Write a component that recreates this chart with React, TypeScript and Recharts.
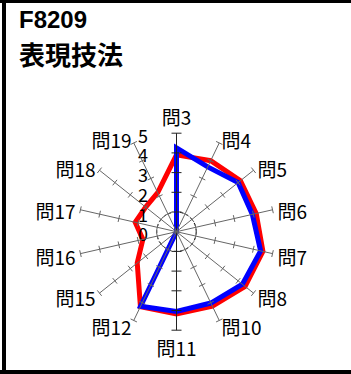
import React from "react";
import { RadarChart, Radar, PolarAngleAxis, PolarRadiusAxis, PolarGrid } from "recharts";

const categories = ["問3", "問4", "問5", "問6", "問7", "問8", "問10", "問11", "問12", "問15", "問16", "問17", "問18", "問19"];
const redValues = [3.9, 4.0, 4.15, 4.15, 4.5, 4.45, 4.2, 4.18, 4.22, 2.55, 1.75, 2.15, 2.0, 2.2];
const blueValues = [4.25, 3.65, 4.0, 3.95, 4.38, 4.28, 4.02, 4.05, 4.2, 0, 0, 0, 0, 0];
const valueTicks = [0, 1, 2, 3, 4, 5];

const W = 351;
const H = 374;
const CX = 176.5;
const CY = 231.7;
const OUTER = 98.5;
const MAX = valueTicks[valueTicks.length - 1];
const RAD = Math.PI / 180;

const data = categories.map((name, i) => ({ name, red: redValues[i], blue: blueValues[i] }));
const angles = categories.map((_, i) => 90 - (i * 360) / categories.length);

// tick mark across a spoke, optional value labels on the main (vertical) axis
const makeSpokeTick = (angle: number, strong: boolean, withLabels: boolean) => (props: any) => {
  const { x, y, payload } = props;
  const label = withLabels ? (
    <text
      x={x - 33.5}
      y={y + 1.5}
      textAnchor="middle"
      dominantBaseline="central"
      fontSize={18}
      fontFamily="'Noto Sans CJK JP', sans-serif"
      fill="#000"
    >
      {payload.value}
    </text>
  ) : null;
  if (payload.value === 0) return <g>{label}</g>;
  const L = strong ? 5 : 3.5;
  const px = Math.sin(angle * RAD);
  const py = Math.cos(angle * RAD);
  return (
    <g>
      <line
        x1={x - L * px}
        y1={y - L * py}
        x2={x + L * px}
        y2={y + L * py}
        stroke={strong ? "#222" : "#666"}
        strokeWidth={1}
      />
      {label}
    </g>
  );
};

const CategoryTick = (props: any) => {
  const { x, y, payload } = props;
  const ang = payload.coordinate;
  const dx = Math.cos(ang * RAD);
  const dy = -Math.sin(ang * RAD);
  let tx = x;
  let ty = y + 1.5;
  let anchor: "start" | "middle" | "end" = dx > 0 ? "start" : "end";
  if (Math.abs(dx) < 0.05) {
    anchor = "middle";
    tx = x;
    ty = y + dy * 12;
  }
  return (
    <text
      x={tx}
      y={ty}
      textAnchor={anchor}
      dominantBaseline="central"
      fontSize={19}
      fontFamily="'Noto Sans CJK JP', sans-serif"
      fill="#000"
    >
      {payload.value}
    </text>
  );
};

export default function App() {
  return (
    <div style={{ position: "relative", width: W, height: H, background: "#fff", overflow: "hidden" }}>
      <style>{"body{margin:0;background:#fff}"}</style>
      <RadarChart
        width={W}
        height={H}
        cx={CX}
        cy={CY}
        outerRadius={OUTER}
        data={data}
        margin={{ top: 0, right: 0, bottom: 0, left: 0 }}
        style={{ position: "absolute", left: 0, top: 0 }}
      >
        <PolarGrid
          gridType="circle"
          radialLines={false}
          polarRadius={[(OUTER * valueTicks[1]) / MAX]}
          stroke="#000"
          strokeDasharray="3 3"
        />
        <PolarAngleAxis dataKey="name" axisLine={false} tickLine={false} tickSize={5} tick={CategoryTick} />
        {angles.map((a, i) => {
          const strong = i === 0 || i === categories.length / 2;
          return (
            <PolarRadiusAxis
              key={i}
              radiusAxisId={i}
              angle={a}
              type="number"
              domain={[0, MAX]}
              allowDataOverflow
              tickCount={valueTicks.length}
              ticks={valueTicks as any}
              stroke={strong ? "#222" : "#666"}
              axisLine={{ stroke: strong ? "#222" : "#666", strokeWidth: 1 }}
              tick={makeSpokeTick(a, strong, i === 0)}
            />
          );
        })}
        <Radar
          dataKey="red"
          stroke="#ff0000"
          strokeWidth={5}
          fill="none"
          fillOpacity={0}
          dot={false}
          isAnimationActive={false}
        />
        <Radar
          dataKey="blue"
          stroke="#0000ff"
          strokeWidth={5}
          fill="none"
          fillOpacity={0}
          dot={false}
          isAnimationActive={false}
        />
      </RadarChart>
      <svg width={W} height={H} style={{ position: "absolute", left: 0, top: 0, pointerEvents: "none" }}>
        <rect x={0} y={0} width={W} height={3} fill="#000" />
        <rect x={2} y={0} width={4} height={H} fill="#000" />
        <rect x={0} y={370} width={W} height={4} fill="#000" />
        <text x={19} y={28} fontSize={24} fontWeight="bold" fontFamily="'Liberation Sans', Arial, sans-serif" fill="#000">
          F8209
        </text>
        <text x={19} y={65} fontSize={26} fontWeight="bold" fontFamily="'Noto Sans CJK JP', sans-serif" fill="#000">
          表現技法
        </text>
      </svg>
    </div>
  );
}
